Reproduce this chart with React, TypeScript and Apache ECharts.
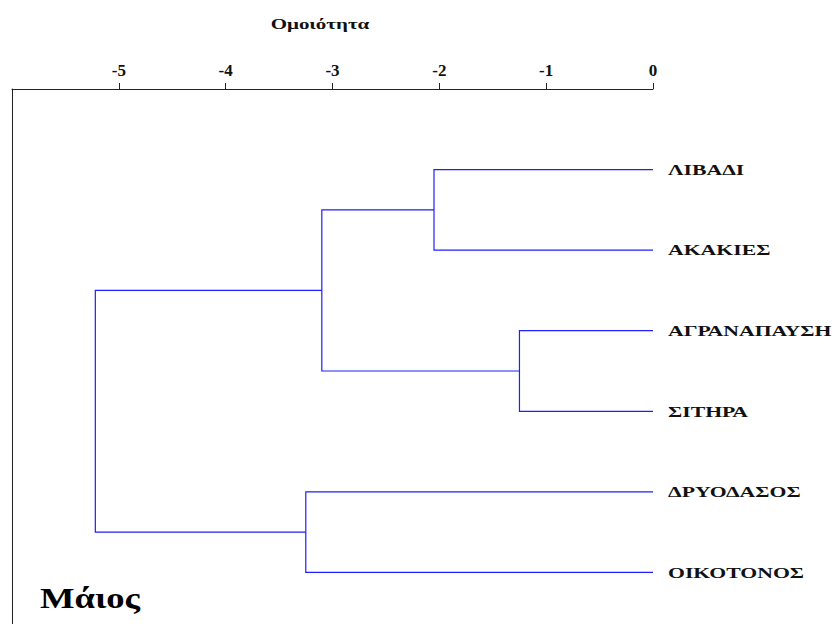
import React, { useEffect, useRef } from 'react';
import * as echarts from 'echarts';

const leafNames = ['ΛΙΒΑΔΙ', 'ΑΚΑΚΙΕΣ', 'ΑΓΡΑΝΑΠΑΥΣΗ', 'ΣΙΤΗΡΑ', 'ΔΡΥΟΔΑΣΟΣ', 'ΟΙΚΟΤΟΝΟΣ'];
// merges: node ids 0..5 are leaves, merge k creates node 6+k
const mergeLeft = [0, 2, 6, 4, 8];
const mergeRight = [1, 3, 7, 5, 9];
const mergeHeights = [-2.05, -1.25, -3.1, -3.25, -5.22];
const tickValues = [-5, -4, -3, -2, -1, 0];
const axisTitle = 'Ομοιότητα';
const panelLabel = 'Μάιος';

const SERIF = '"Liberation Serif", "Times New Roman", "DejaVu Serif", serif';

export default function App() {
  const ref = useRef<HTMLDivElement>(null);
  useEffect(() => {
    if (!ref.current) return;
    const chart = echarts.init(ref.current, undefined, { renderer: 'svg' });

    const nodeX: number[] = leafNames.map(() => 0);
    const nodeY: number[] = leafNames.map((_, i) => i);
    const links: number[][] = [];
    mergeHeights.forEach((h, k) => {
      const a = mergeLeft[k];
      const b = mergeRight[k];
      links.push([nodeX[a], nodeY[a], nodeX[b], nodeY[b], h]);
      nodeX.push(h);
      nodeY.push((nodeY[a] + nodeY[b]) / 2);
    });

    chart.setOption({
      animation: false,
      backgroundColor: '#ffffff',
      grid: { left: 12, right: 181, top: 89, bottom: 0, containLabel: false },
      xAxis: {
        type: 'value',
        position: 'top',
        min: -6,
        max: 0,
        interval: 1,
        axisLine: { show: true, onZero: false, lineStyle: { color: '#222', width: 1 } },
        axisTick: { show: true, length: 6, customValues: tickValues, lineStyle: { color: '#222' } },
        axisLabel: {
          show: true,
          customValues: tickValues,
          margin: 10,
          color: '#111',
          fontFamily: SERIF,
          fontWeight: 'bold',
          fontSize: 17,
        },
        splitLine: { show: false },
      },
      yAxis: {
        type: 'value',
        inverse: true,
        min: -1,
        max: 5.64,
        position: 'left',
        axisLine: { show: true, onZero: false, lineStyle: { color: '#222', width: 1 } },
        axisTick: { show: false },
        axisLabel: { show: false },
        splitLine: { show: false },
      },
      graphic: [
        {
          type: 'text',
          x: 320,
          y: 24,
          scaleX: 1.5,
          style: {
            text: axisTitle,
            font: `bold 14px ${SERIF}`,
            fill: '#111',
            textAlign: 'center',
            verticalAlign: 'middle',
          },
        },
        {
          type: 'text',
          x: 40,
          y: 598,
          scaleX: 1.22,
          style: {
            text: panelLabel,
            font: `bold 30px ${SERIF}`,
            fill: '#000',
            textAlign: 'left',
            verticalAlign: 'middle',
          },
        },
      ],
      series: [
        {
          type: 'custom',
          coordinateSystem: 'cartesian2d',
          clip: false,
          data: links,
          renderItem: (params: any, api: any) => {
            const pa = api.coord([api.value(0), api.value(1)]);
            const pb = api.coord([api.value(2), api.value(3)]);
            const xm = api.coord([api.value(4), api.value(1)])[0];
            return {
              type: 'polyline',
              shape: { points: [pa, [xm, pa[1]], [xm, pb[1]], pb] },
              style: { stroke: '#1f1fff', lineWidth: 1.2, fill: 'none' },
            };
          },
        },
        {
          type: 'custom',
          coordinateSystem: 'cartesian2d',
          clip: false,
          data: leafNames.map((_, i) => [0, i]),
          renderItem: (params: any, api: any) => {
            const p = api.coord([api.value(0), api.value(1)]);
            return {
              type: 'text',
              x: p[0] + 15,
              y: p[1],
              scaleX: 1.45,
              style: {
                text: leafNames[params.dataIndex],
                font: `bold 15px ${SERIF}`,
                fill: '#111',
                textAlign: 'left',
                verticalAlign: 'middle',
              },
            };
          },
        },
      ],
    });
    return () => chart.dispose();
  }, []);
  return (
    <div
      ref={ref}
      style={{ position: 'fixed', left: 0, top: 0, width: 834, height: 624, background: '#fff' }}
    />
  );
}
